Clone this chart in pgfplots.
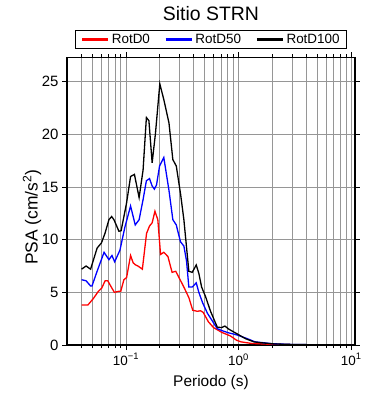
\documentclass[border=0pt]{standalone}
\usepackage{fontspec}
\setmainfont{Liberation Sans}
\usepackage{pgfplots}
\pgfplotsset{compat=1.18}
\definecolor{gridgray}{RGB}{150,150,150}
\begin{document}
\begin{tikzpicture}
\useasboundingbox (0bp,0bp) rectangle (390bp,400bp);
\begin{axis}[
  at={(67bp,55bp)}, anchor=south west,
  scale only axis, width=288bp, height=287.5bp,
  xmode=log, xmin=0.03, xmax=10.8, ymin=0, ymax=27.3,
  xtick={0.1,1,10},
  xticklabels={10\textsuperscript{−1},10\textsuperscript{0},10\textsuperscript{1}},
  minor xtick={0.04,0.05,0.06,0.07,0.08,0.09,0.2,0.3,0.4,0.5,0.6,0.7,0.8,0.9,2,3,4,5,6,7,8,9},
  ytick={0,5,10,15,20,25},
  yticklabels={0,5,10,15,20,25},
  tick align=outside, major tick length=5bp, minor tick length=3bp,
  every tick/.style={black, line width=0.8bp},
  xmajorgrids, xminorgrids, ymajorgrids,
  major grid style={gridgray, line width=0.7bp},
  minor grid style={gridgray, line width=0.7bp},
  axis line style={line width=1.7bp},
  xticklabel style={font=\fontsize{13.5}{14}\selectfont},
  yticklabel style={font=\fontsize{15}{15}\selectfont},
  xlabel={Periodo (s)},
  xlabel style={at={(axis description cs:0.5,0)}, anchor=base, yshift=-41.5bp, font=\fontsize{15.5}{16}\selectfont},
  ylabel={PSA (cm/s\textsuperscript{2})},
  ylabel style={at={(axis description cs:-0.1024,0.445)}, anchor=base, font=\fontsize{17.5}{18}\selectfont},
  legend style={at={(axis description cs:0.5,1)}, anchor=south, yshift=8.5bp, legend columns=3, draw=black, line width=1.2bp,
    font=\fontsize{13.5}{14}\selectfont, inner xsep=5bp, inner ysep=1.5bp,
    /tikz/every even column/.append style={column sep=12bp}},
  legend cell align=left,
  legend image code/.code={\draw[#1, line width=3.5bp] (0bp,0bp) -- (26bp,0bp);},
]
\addplot[red, line width=1.3bp] coordinates {
(0.0404,3.8) (0.046,3.8) (0.0513,4.4) (0.0570,5.1) (0.0610,5.4) (0.0654,6.1) (0.0690,6.1)
(0.0733,5.6) (0.0790,5.0) (0.0867,5.1) (0.0900,5.1) (0.0960,6.2) (0.1014,6.4) (0.110,8.5)
(0.116,7.8) (0.122,7.6) (0.128,7.5) (0.140,7.2) (0.1525,10.6) (0.162,11.3) (0.171,11.6)
(0.181,12.7) (0.192,11.9) (0.203,8.6) (0.217,8.8) (0.236,8.4) (0.257,6.9) (0.277,7.0)
(0.296,6.4) (0.327,5.5) (0.362,4.5) (0.392,3.3) (0.43,3.2) (0.46,3.25) (0.485,3.1)
(0.54,2.2) (0.60,1.65) (0.71,1.2) (0.85,0.85) (0.96,0.45) (1.05,0.3) (1.3,0.15)
(1.5,0.12) (2.0,0.06) (3.0,0.03) (5.0,0.02) (10.0,0.01)
};
\addlegendentry{RotD0}
\addplot[blue, line width=1.3bp] coordinates {
(0.0404,6.2) (0.0443,6.1) (0.0486,5.6) (0.0500,5.6) (0.0555,7.0) (0.0640,8.8) (0.0707,8.1)
(0.0752,8.5) (0.0795,7.9) (0.0885,9.0) (0.0980,11.2) (0.110,13.2) (0.121,11.4) (0.131,11.9)
(0.142,13.8) (0.152,15.6) (0.162,15.8) (0.171,15.1) (0.179,14.8) (0.187,15.2) (0.199,17.0)
(0.217,17.8) (0.241,14.7) (0.261,11.9) (0.280,11.4) (0.305,9.8) (0.327,9.4) (0.345,8.0)
(0.362,5.5) (0.388,5.5) (0.421,5.9) (0.444,5.0) (0.480,4.0) (0.53,3.0) (0.60,2.1)
(0.647,1.55) (0.72,1.35) (0.82,1.15) (0.97,0.95) (1.17,0.64) (1.40,0.3) (2.0,0.12)
(3.0,0.05) (5.0,0.02) (10.0,0.01)
};
\addlegendentry{RotD50}
\addplot[black, line width=1.3bp] coordinates {
(0.0404,7.2) (0.0443,7.5) (0.0486,7.2) (0.0555,9.2) (0.0607,9.7) (0.0652,10.6) (0.0707,11.9)
(0.0747,12.2) (0.0783,11.9) (0.0867,10.8) (0.0907,10.85) (0.1014,13.5) (0.110,16.0) (0.119,16.2)
(0.131,14.0) (0.142,16.6) (0.152,21.6) (0.160,21.3) (0.171,17.3) (0.183,20.1) (0.200,24.8)
(0.217,23.3) (0.241,21.1) (0.261,17.6) (0.280,17.0) (0.306,14.3) (0.327,11.9) (0.362,7.0)
(0.388,6.9) (0.421,7.6) (0.444,6.8) (0.470,5.5) (0.509,4.6) (0.564,3.2) (0.647,1.7)
(0.706,1.65) (0.756,1.8) (0.820,1.5) (0.973,1.05) (1.153,0.6) (1.367,0.3) (1.567,0.22)
(2.06,0.1) (3.0,0.05) (5.0,0.02) (10.0,0.01)
};
\addlegendentry{RotD100}
\end{axis}
\node[anchor=base, font=\fontsize{19.5}{20}\selectfont, inner sep=0pt] at (211bp,379bp) {Sitio STRN};
\end{tikzpicture}
\end{document}
